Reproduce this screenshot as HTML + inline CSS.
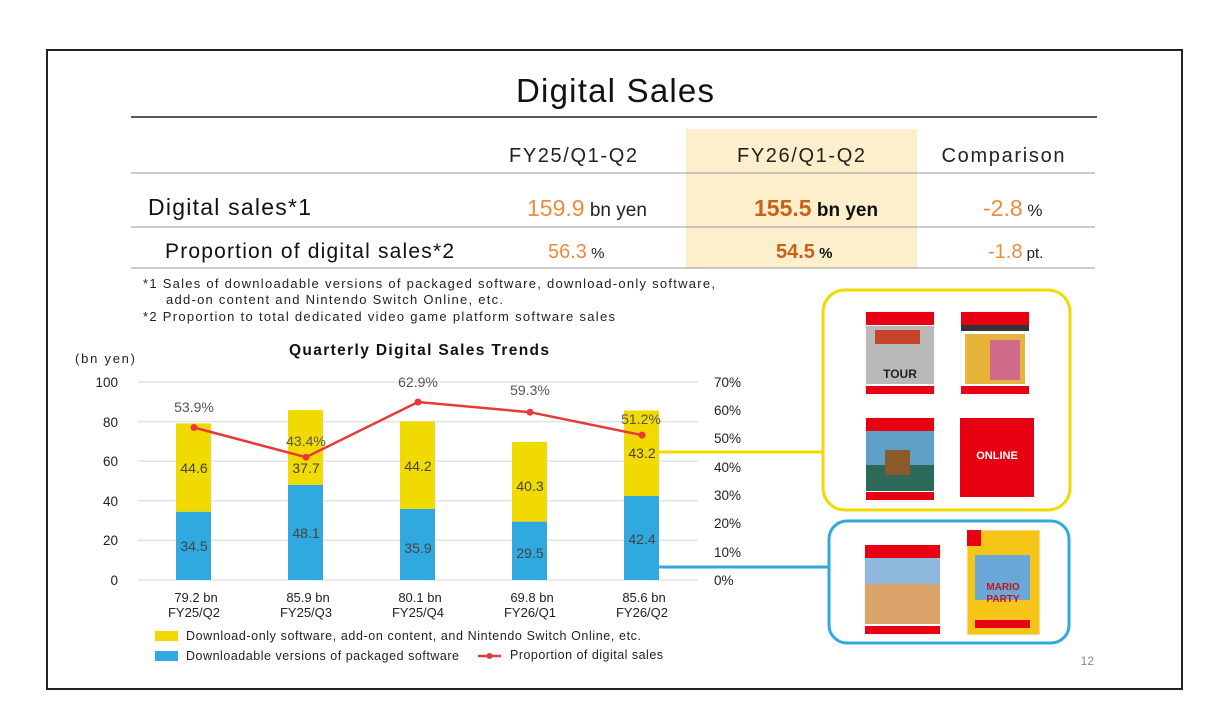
<!DOCTYPE html>
<html><head><meta charset="utf-8"><style>
html,body{margin:0;padding:0;background:#fff;}
svg{display:block;font-family:"Liberation Sans","DejaVu Sans",sans-serif;}
</style></head><body>
<svg width="1232" height="718" viewBox="0 0 1232 718" xmlns="http://www.w3.org/2000/svg">
<rect x="0" y="0" width="1232" height="718" fill="#fff"/>
<rect x="47" y="50" width="1135" height="639" fill="none" stroke="#222" stroke-width="2"/>
<text x="615" y="102" font-size="33" text-anchor="middle" fill="#111" textLength="198">Digital Sales</text>
<line x1="131" y1="117" x2="1097" y2="117" stroke="#222" stroke-width="1.5"/>
<rect x="686" y="129" width="231" height="139" fill="#fdefcc"/>
<g font-size="20" fill="#222" text-anchor="middle">
<text x="573" y="162" textLength="128">FY25/Q1-Q2</text>
<text x="801" y="162" textLength="128">FY26/Q1-Q2</text>
<text x="1003" y="162" textLength="123">Comparison</text>
</g>
<line x1="131" y1="173" x2="1095" y2="173" stroke="#999" stroke-width="1"/>
<text x="148" y="215" font-size="23" fill="#111" textLength="163">Digital sales*1</text>
<text x="527" y="216" font-size="23" fill="#f08a3c">159.9<tspan font-size="19" fill="#222"> bn yen</tspan></text>
<text x="754" y="216" font-size="23" font-weight="bold" fill="#c8601a">155.5<tspan font-size="19" fill="#111"> bn yen</tspan></text>
<text x="983" y="216" font-size="23" fill="#f08a3c">-2.8<tspan font-size="17" fill="#222"> %</tspan></text>
<line x1="131" y1="227" x2="1095" y2="227" stroke="#999" stroke-width="1"/>
<text x="165" y="258" font-size="21" fill="#111" textLength="289">Proportion of digital sales*2</text>
<text x="548" y="258" font-size="20" fill="#f08a3c">56.3<tspan font-size="15" fill="#222"> %</tspan></text>
<text x="776" y="258" font-size="20" font-weight="bold" fill="#c8601a">54.5<tspan font-size="15" fill="#111"> %</tspan></text>
<text x="988" y="258" font-size="20" fill="#f08a3c">-1.8<tspan font-size="15" fill="#222"> pt.</tspan></text>
<line x1="131" y1="268" x2="1095" y2="268" stroke="#999" stroke-width="1"/>
<g font-size="13" fill="#222">
<text x="143" y="288" textLength="572">*1 Sales of downloadable versions of packaged software, download-only software,</text>
<text x="166" y="304" textLength="337">add-on content and Nintendo Switch Online, etc.</text>
<text x="143" y="321" textLength="472">*2 Proportion to total dedicated video game platform software sales</text>
</g>
<text x="289" y="355" font-size="15.5" font-weight="bold" fill="#111" textLength="260">Quarterly Digital Sales Trends</text>
<text x="75" y="363" font-size="13" fill="#222" textLength="60">(bn yen)</text>
<g stroke="#e3e3e3" stroke-width="1.5">
<line x1="138" y1="382" x2="698" y2="382"/><line x1="138" y1="421.6" x2="698" y2="421.6"/>
<line x1="138" y1="461.2" x2="698" y2="461.2"/><line x1="138" y1="500.8" x2="698" y2="500.8"/>
<line x1="138" y1="540.4" x2="698" y2="540.4"/><line x1="138" y1="580" x2="698" y2="580"/>
</g>
<g font-size="13.5" fill="#222" text-anchor="end">
<text x="118" y="387">100</text><text x="118" y="427">80</text><text x="118" y="466">60</text>
<text x="118" y="506">40</text><text x="118" y="545">20</text><text x="118" y="585">0</text>
</g>
<g font-size="13.5" fill="#222">
<text x="714" y="387">70%</text><text x="714" y="415">60%</text><text x="714" y="443">50%</text>
<text x="714" y="472">40%</text><text x="714" y="500">30%</text><text x="714" y="528">20%</text>
<text x="714" y="557">10%</text><text x="714" y="585">0%</text>
</g>
<g>
<rect x="176" y="511.7" width="35" height="68.3" fill="#2fa9e0"/><rect x="176" y="423.4" width="35" height="88.3" fill="#f0da00"/>
<rect x="288" y="484.8" width="35" height="95.2" fill="#2fa9e0"/><rect x="288" y="410.1" width="35" height="74.7" fill="#f0da00"/>
<rect x="400" y="508.9" width="35" height="71.1" fill="#2fa9e0"/><rect x="400" y="421.4" width="35" height="87.5" fill="#f0da00"/>
<rect x="512" y="521.6" width="35" height="58.4" fill="#2fa9e0"/><rect x="512" y="441.8" width="35" height="79.8" fill="#f0da00"/>
<rect x="624" y="496.0" width="35" height="84.0" fill="#2fa9e0"/><rect x="624" y="410.5" width="35" height="85.5" fill="#f0da00"/>
</g>
<g font-size="14" fill="#444" text-anchor="middle">
<text x="194" y="473">44.6</text><text x="194" y="551">34.5</text>
<text x="306" y="473">37.7</text><text x="306" y="538">48.1</text>
<text x="418" y="471">44.2</text><text x="418" y="553">35.9</text>
<text x="530" y="491">40.3</text><text x="530" y="558">29.5</text>
<text x="642" y="458">43.2</text><text x="642" y="544">42.4</text>
</g>
<line x1="659" y1="452" x2="822" y2="452" stroke="#f0da00" stroke-width="3"/>
<line x1="659" y1="567" x2="828" y2="567" stroke="#2fa9e0" stroke-width="3"/>
<polyline points="194,427.5 306,457.2 418,402 530,412.2 642,435.1" fill="none" stroke="#e8393a" stroke-width="2.5"/>
<g fill="#e8393a"><circle cx="194" cy="427.5" r="3.5"/><circle cx="306" cy="457.2" r="3.5"/><circle cx="418" cy="402" r="3.5"/><circle cx="530" cy="412.2" r="3.5"/><circle cx="642" cy="435.1" r="3.5"/></g>
<g font-size="14" fill="#555" text-anchor="middle">
<text x="194" y="412">53.9%</text><text x="306" y="446">43.4%</text><text x="418" y="387">62.9%</text>
<text x="530" y="395">59.3%</text><text x="641" y="424">51.2%</text>
</g>
<g font-size="13" fill="#222" text-anchor="middle">
<text x="196" y="602">79.2 bn</text><text x="194" y="617">FY25/Q2</text>
<text x="308" y="602">85.9 bn</text><text x="306" y="617">FY25/Q3</text>
<text x="420" y="602">80.1 bn</text><text x="418" y="617">FY25/Q4</text>
<text x="532" y="602">69.8 bn</text><text x="530" y="617">FY26/Q1</text>
<text x="644" y="602">85.6 bn</text><text x="642" y="617">FY26/Q2</text>
</g>
<rect x="155" y="631" width="23" height="10" fill="#f0da00"/>
<text x="186" y="640" font-size="12.5" fill="#222" textLength="455">Download-only software, add-on content, and Nintendo Switch Online, etc.</text>
<rect x="155" y="651" width="23" height="10" fill="#2fa9e0"/>
<text x="186" y="660" font-size="12.5" fill="#222" textLength="273">Downloadable versions of packaged software</text>
<line x1="478" y1="656" x2="501" y2="656" stroke="#e8393a" stroke-width="2.5"/><circle cx="489.5" cy="656" r="3" fill="#e8393a"/>
<text x="510" y="659" font-size="12.5" fill="#222" textLength="153">Proportion of digital sales</text>
<text x="1094" y="665" font-size="12" fill="#888" text-anchor="end">12</text>
<rect x="823" y="290" width="247" height="220" rx="22" fill="#fff" stroke="#f0da00" stroke-width="3"/>
<rect x="829" y="521" width="240" height="122" rx="18" fill="#fff" stroke="#2fa9e0" stroke-width="3"/>
<g>
<rect x="866" y="312" width="68" height="84" fill="#fff" stroke="#eee"/>
<rect x="866" y="312" width="68" height="13" fill="#e60012"/>
<rect x="866" y="326" width="68" height="58" fill="#b9b9b9"/>
<rect x="875" y="330" width="45" height="14" fill="#c5442a"/>
<text x="900" y="378" font-size="12" font-weight="bold" fill="#222" text-anchor="middle">TOUR</text>
<rect x="866" y="386" width="68" height="8" fill="#e60012"/>
<rect x="961" y="312" width="68" height="84" fill="#fff" stroke="#eee"/>
<rect x="961" y="312" width="68" height="13" fill="#e60012"/>
<rect x="961" y="325" width="68" height="6" fill="#333"/>
<rect x="965" y="334" width="60" height="50" fill="#e6b43a"/>
<rect x="990" y="340" width="30" height="40" fill="#d06a8a"/>
<rect x="961" y="386" width="68" height="8" fill="#e60012"/>
<rect x="866" y="418" width="68" height="84" fill="#fff" stroke="#eee"/>
<rect x="866" y="418" width="68" height="13" fill="#e60012"/>
<rect x="866" y="431" width="68" height="40" fill="#5ea0c8"/>
<rect x="866" y="465" width="68" height="26" fill="#2c6a5a"/>
<rect x="885" y="450" width="25" height="25" fill="#8a5a2a"/>
<rect x="866" y="492" width="68" height="8" fill="#e60012"/>
<rect x="960" y="418" width="74" height="79" fill="#e60012"/>
<text x="997" y="459" font-size="11" font-weight="bold" fill="#fff" text-anchor="middle">ONLINE</text>
<rect x="865" y="545" width="75" height="90" fill="#fff" stroke="#eee"/>
<rect x="865" y="545" width="75" height="13" fill="#e60012"/>
<rect x="865" y="558" width="75" height="66" fill="#d9a36a"/>
<rect x="865" y="558" width="75" height="26" fill="#8fb9dc"/>
<rect x="865" y="626" width="75" height="8" fill="#e60012"/>
<rect x="967" y="530" width="73" height="105" fill="#f5c518" stroke="#eee"/>
<rect x="967" y="530" width="14" height="16" fill="#e60012"/>
<rect x="975" y="555" width="55" height="45" fill="#6aa8d8"/>
<text x="1003" y="590" font-size="10" font-weight="bold" fill="#c3161c" text-anchor="middle">MARIO</text>
<text x="1003" y="602" font-size="10" font-weight="bold" fill="#c3161c" text-anchor="middle">PARTY</text>
<rect x="975" y="620" width="55" height="8" fill="#e60012"/>
</g>
</svg>
</body></html>
